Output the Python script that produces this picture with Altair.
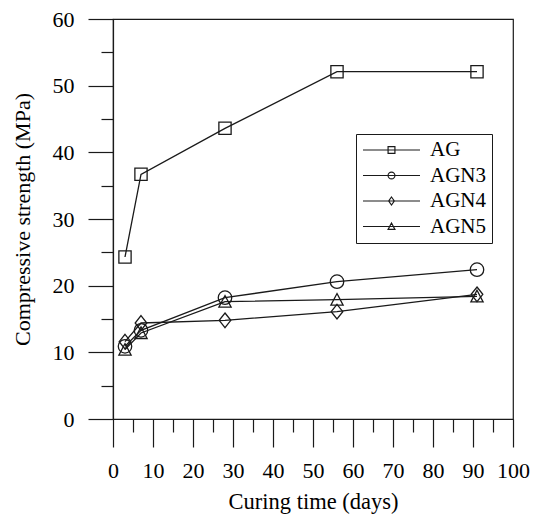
import altair as alt
import pandas as pd

days = [3, 7, 28, 56, 91]
series_names = ["AG", "AGN3", "AGN4", "AGN5"]
ag = [24.3, 36.7, 43.6, 52.1, 52.1]
agn3 = [10.9, 13.3, 18.2, 20.6, 22.4]
agn4 = [11.6, 14.4, 14.8, 16.1, 18.7]
agn5 = [10.4, 12.9, 17.6, 17.9, 18.4]
x_ticks = list(range(0, 101, 10))
x_minor = list(range(5, 100, 10))
y_ticks = list(range(0, 61, 10))
y_minor = list(range(5, 60, 10))

rows = []
for name, vals in zip(series_names, [ag, agn3, agn4, agn5]):
    for d, v in zip(days, vals):
        rows.append({"series": name, "days": d, "strength": v})
df = pd.DataFrame(rows)

FONT = "Liberation Serif"
INK = "#1a1a1a"

marker_shapes = [
    "square",
    "M1.1,0A1.1,1.1,0,1,1,-1.1,0A1.1,1.1,0,1,1,1.1,0Z",
    "M0,-1.2L0.95,0L0,1.2L-0.95,0Z",
    "M0,-1L1,0.9H-1Z",
]
legend_shapes = [
    "M-1,0H1M-0.12,-0.12H0.12V0.12H-0.12Z",
    "M-1,0H1M0.12,0A0.12,0.12,0,1,1,-0.12,0A0.12,0.12,0,1,1,0.12,0Z",
    "M-1,0H1M0,-0.14L0.1,0L0,0.14L-0.1,0Z",
    "M-1,0H1M0,-0.12L0.12,0.1H-0.12Z",
]

xscale = alt.Scale(domain=[0, 100], nice=False, zero=False)
yscale = alt.Scale(domain=[0, 60], nice=False, zero=False)

main_x_axis = alt.Axis(
    orient="bottom",
    values=x_ticks, tickSize=28, tickWidth=1.2, tickColor=INK,
    domainColor=INK, domainWidth=1.2, grid=False,
    labelFont=FONT, labelFontSize=22, labelColor="black", labelPadding=13.5,
    labelFlush=False, labelOverlap=False,
    title="Curing time (days)", titleFont=FONT, titleFontSize=22.5,
    titleFontWeight="normal", titleColor="black",
    titleX=200, titleY=89, titleBaseline="alphabetic",
)
main_y_axis = alt.Axis(
    orient="left",
    values=y_ticks, tickSize=25, tickWidth=1.2, tickColor=INK,
    domainColor=INK, domainWidth=1.2, grid=False,
    labelFont=FONT, labelFontSize=22, labelColor="black", labelPadding=14,
    labelFlush=False, labelOverlap=False,
    title="Compressive strength (MPa)", titleFont=FONT, titleFontSize=22,
    titleFontWeight="normal", titleColor="black",
    titleX=-84, titleY=200, titleAngle=-90, titleBaseline="alphabetic",
)
minor_x_axis = alt.Axis(orient="bottom", values=x_minor, tickSize=13, tickWidth=1.2,
                        tickColor=INK, labels=False, domain=False, grid=False, title=None)
minor_y_axis = alt.Axis(orient="left", values=y_minor, tickSize=12, tickWidth=1.2,
                        tickColor=INK, labels=False, domain=False, grid=False, title=None)

base = alt.Chart(df)

lines = base.mark_line(color=INK, strokeWidth=1.3).encode(
    x=alt.X("days:Q", scale=xscale, axis=main_x_axis),
    y=alt.Y("strength:Q", scale=yscale, axis=main_y_axis),
    detail="series:N",
)

points = base.mark_point(filled=False, color=INK, size=150, strokeWidth=1.3, opacity=1).encode(
    x=alt.X("days:Q", scale=xscale, axis=None),
    y=alt.Y("strength:Q", scale=yscale, axis=None),
    shape=alt.Shape("series:N", scale=alt.Scale(domain=series_names, range=marker_shapes), legend=None),
)

legend_layer = base.transform_filter("false").mark_point(
    filled=False, color=INK, strokeWidth=1.2, opacity=1
).encode(
    x=alt.X("days:Q", scale=xscale, axis=minor_x_axis),
    y=alt.Y("strength:Q", scale=yscale, axis=minor_y_axis),
    shape=alt.Shape(
        "series:N",
        scale=alt.Scale(domain=series_names, range=legend_shapes),
        legend=alt.Legend(
            title=None, orient="none", legendX=243, legendY=115, direction="vertical",
            strokeColor=INK, fillColor="white", padding=6,
            symbolSize=3249, symbolStrokeWidth=1.2, symbolStrokeColor=INK,
            symbolFillColor="transparent", symbolOffset=0,
            labelFont=FONT, labelFontSize=21, labelColor="black", labelOffset=9,
            labelExpr="datum.label + '\u00a0\u00a0\u00a0'",
            clipHeight=20, rowPadding=4.5,
        ),
    ),
)

chart = (
    alt.layer(lines, points, legend_layer)
    .resolve_scale(shape="independent")
    .resolve_axis(x="independent", y="independent")
    .properties(
        width=400, height=400,
        autosize=alt.AutoSizeParams(type="none"),
        padding={"left": 105, "top": 11, "right": 19, "bottom": 96},
        background="white",
    )
    .configure(font=FONT)
    .configure_axis(labelFont=FONT, titleFont=FONT)
    .configure_legend(labelFont=FONT)
    .configure_text(font=FONT)
    .configure_view(stroke=INK, strokeWidth=1.2)
)

chart.save("out.html", embed_options={"renderer": "svg", "actions": False})
